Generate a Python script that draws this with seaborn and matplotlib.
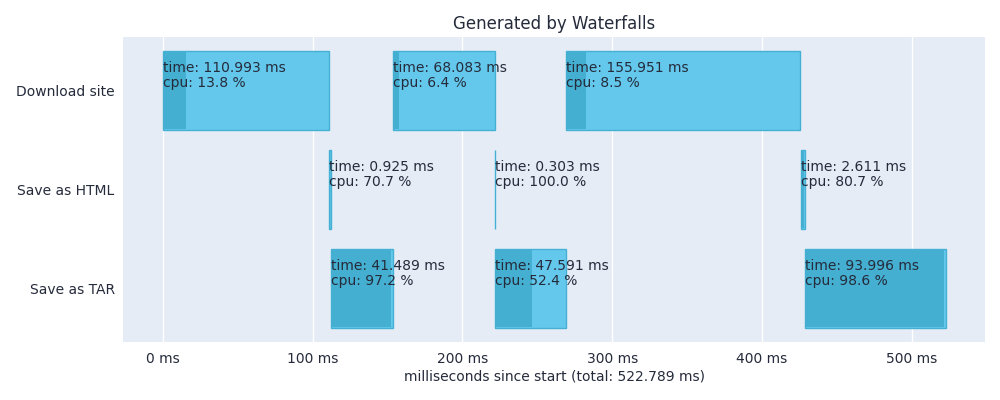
import pandas as pd
import numpy as np
import matplotlib.pyplot as plt
import seaborn as sns

tasks = ['Download site', 'Save as HTML', 'Save as TAR']
task_of_run = ['Download site', 'Save as HTML', 'Save as TAR',
               'Download site', 'Save as HTML', 'Save as TAR',
               'Download site', 'Save as HTML', 'Save as TAR']
starts = [0.0, 111.0, 111.9, 153.4, 221.5, 221.8, 269.4, 425.8, 428.7]
durations = [110.993, 0.925, 41.489, 68.083, 0.303, 47.591, 155.951, 2.611, 93.996]
cpu = [13.8, 70.7, 97.2, 6.4, 100.0, 52.4, 8.5, 80.7, 98.6]
total = 522.789

df = pd.DataFrame({'task': task_of_run, 'start': starts, 'time': durations, 'cpu': cpu})
df['row'] = df['task'].map({t: i for i, t in enumerate(tasks)})
df['busy'] = df['time'] * df['cpu'] / 100

text_col = '#252b3b'
sns.set_theme(style='darkgrid', rc={'axes.facecolor': '#E5ECF6', 'grid.color': 'white',
                                    'grid.linewidth': 1.0, 'text.color': text_col,
                                    'xtick.color': text_col, 'ytick.color': text_col,
                                    'axes.labelcolor': text_col})
plt.rcParams['font.family'] = ['DejaVu Sans']

fig, ax = plt.subplots(figsize=(10, 4), dpi=100)
fig.subplots_adjust(left=0.123, right=0.985, top=0.9075, bottom=0.145)

ax.barh(df['row'], df['time'], left=df['start'], height=0.8,
        color='#63c8ec', edgecolor='#45b0d4', linewidth=1, zorder=2)
ax.barh(df['row'], df['busy'], left=df['start'], height=0.78,
        color='#44afd0', linewidth=0, zorder=3)

for _, r in df.iterrows():
    ax.text(r['start'], r['row'] - 0.3, f"time: {r['time']:.3f} ms\ncpu: {r['cpu']:.1f} %",
            ha='left', va='top', fontsize=10, color=text_col, zorder=4, linespacing=1.15)

ax.set_yticks(range(len(tasks)))
ax.set_yticklabels(tasks, fontsize=10)
ax.set_ylim(len(tasks) - 0.5 + 0.04, -0.5 - 0.04)
ax.set_xlim(-0.051 * total, 1.05 * total)
xt = np.arange(0, 501, 100)
ax.set_xticks(xt)
ax.set_xticklabels([f'{v} ms' for v in xt], fontsize=10)
ax.grid(axis='y', visible=False)
ax.tick_params(axis='x', length=0, pad=7)
ax.tick_params(axis='y', length=0, pad=6)
ax.set_xlabel(f'milliseconds since start (total: {total} ms)', fontsize=10, labelpad=3)
ax.set_ylabel(None)
for s in ax.spines.values():
    s.set_visible(False)
ax.set_title('Generated by Waterfalls', fontsize=12, color=text_col)

plt.savefig('out.png', dpi=100)
